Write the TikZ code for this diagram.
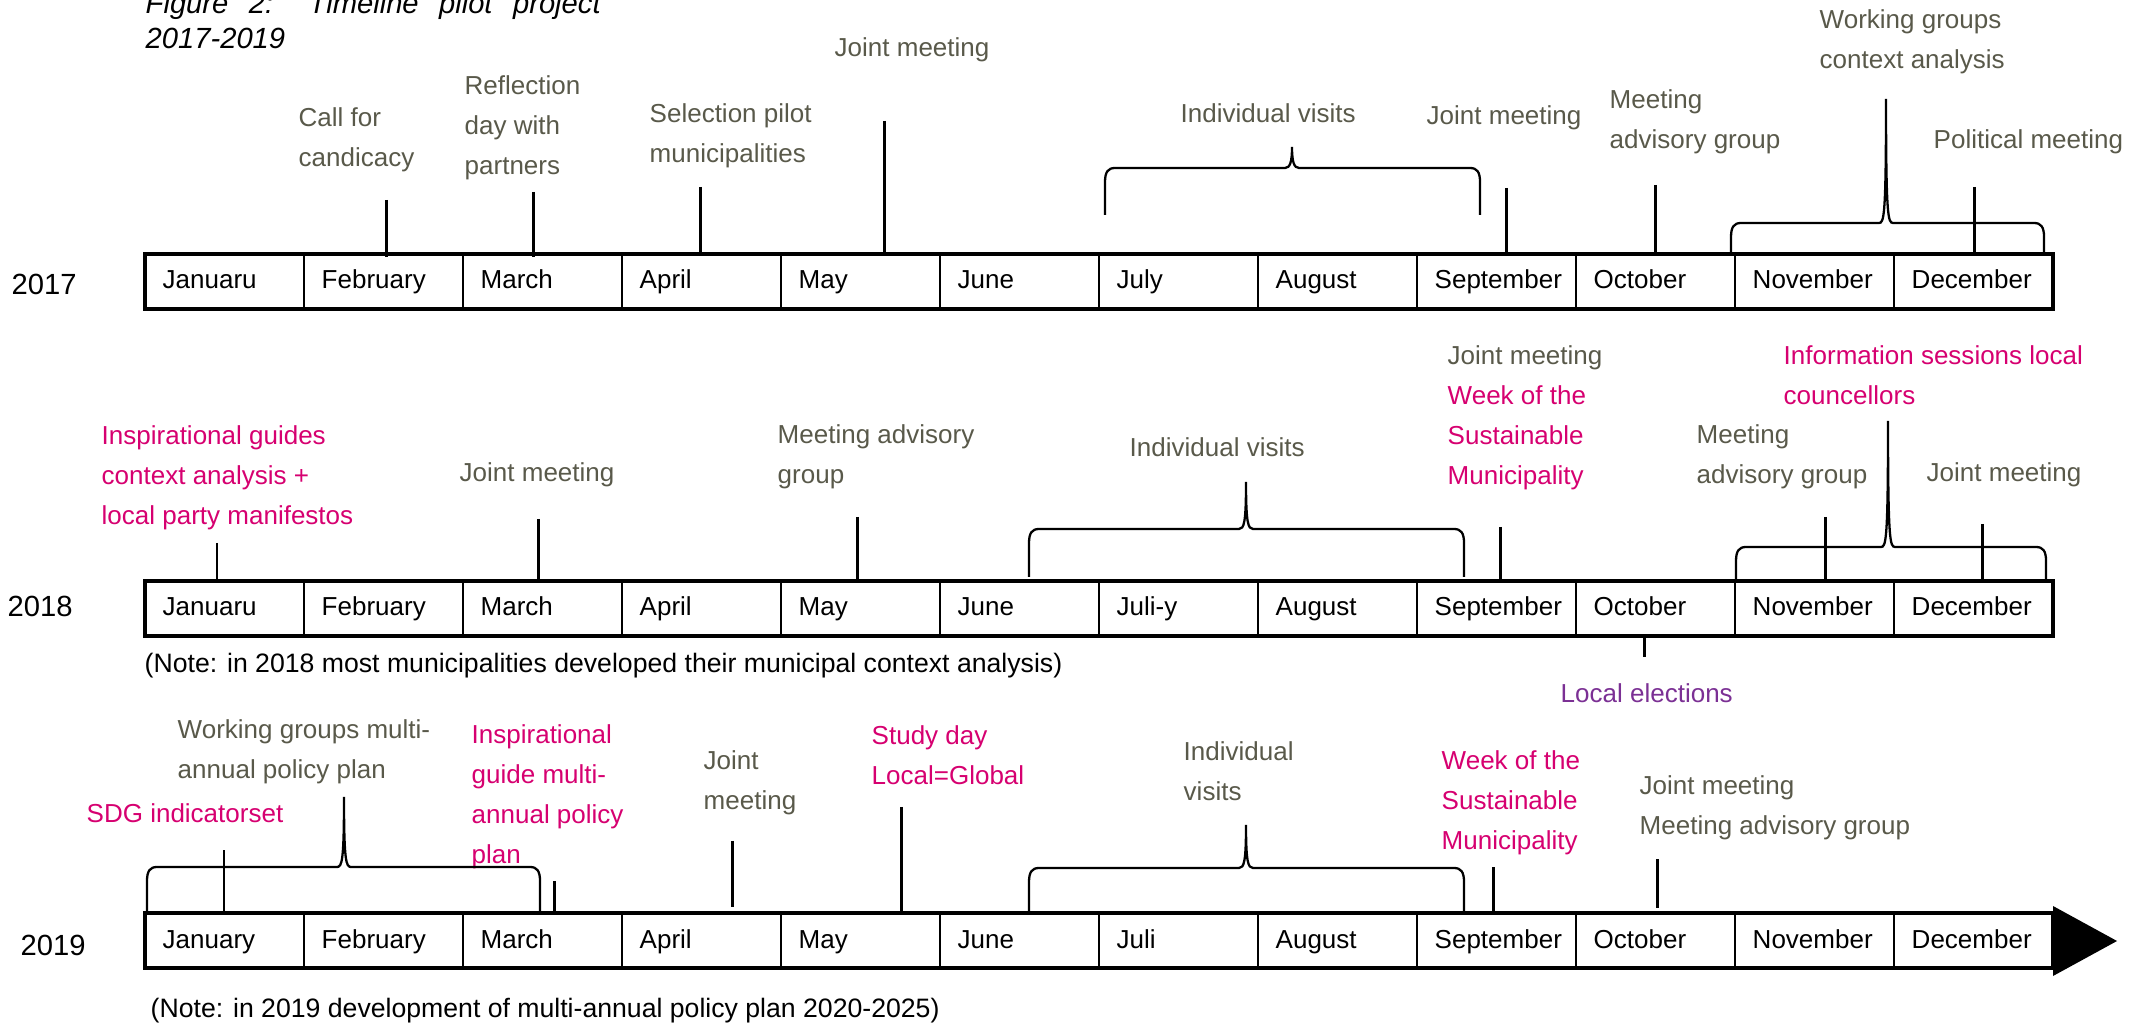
\documentclass[tikz,border=0pt]{standalone}
\usepackage{fontspec}
\setmainfont{Liberation Sans}
\usepackage{xcolor}
\usepackage{tikz}
\usetikzlibrary{positioning}
\definecolor{labelgray}{RGB}{89,89,74}
\definecolor{eventpink}{RGB}{214,0,112}
\definecolor{electpurple}{RGB}{123,48,148}
\tikzset{
  month/.style   ={anchor=base west, inner sep=0pt, font=\fontsize{7.4}{11.4}\selectfont},
  yearlbl/.style ={anchor=base west, inner sep=0pt, font=\fontsize{8.3}{10}\selectfont},
  glbl/.style    ={anchor=north west, inner sep=0pt, align=left, text=labelgray,
                   font=\fontsize{7.4}{11.4}\selectfont},
  plbl/.style    ={glbl, text=eventpink},
  notelbl/.style ={anchor=base west, inner sep=0pt, font=\fontsize{7.58}{11.4}\selectfont},
  barframe/.style={line width=1pt},
  divider/.style ={line width=0.8pt},
  tickline/.style={line width=0.85pt},
  brc/.style     ={line width=0.65pt}
}
% curly brace: left x, right x, leg end y, bar y, peak x, peak y
\newcommand{\eventbrace}[6]{%
  \draw[brc] (#1,#3) -- (#1,#4+14) .. controls (#1,#4+4) and (#1+3,#4) .. (#1+10,#4)
    -- (#5-7,#4) .. controls (#5-2,#4) and (#5,#4-6) .. (#5,#6)
    .. controls (#5,#4-6) and (#5+2,#4) .. (#5+7,#4)
    -- (#2-10,#4) .. controls (#2-3,#4) and (#2,#4+4) .. (#2,#4+14) -- (#2,#3);}

\begin{document}
\begin{tikzpicture}[x=0.1mm, y=-0.1mm]
\useasboundingbox (0,0) rectangle (2152,1025);

\node[anchor=north west, inner sep=0pt, align=left, font=\fontsize{8.3}{10}\selectfont\itshape]
  (title) at (145,-8) {\makebox[45.5mm][s]{Figure 2: Timeline pilot project}\\2017-2019};

% 2017
\node[yearlbl] (y17) at (11,295) {2017};
\draw[barframe] (145,254) rectangle (2053,309);
\foreach \k in {1,...,11} \draw[divider] (145+159*\k,254) -- (145+159*\k,309);
\foreach \m [count=\i from 0] in {Januaru,February,March,April,May,June,July,August,September,October,November,December}
  \node[month] (a\i) at (162+159*\i,289) {\m};

\node[glbl] (cf) at (298,107) {Call for\\candicacy};
\node[glbl] (rd) at (464,75) {Reflection\\day with\\partners};
\node[glbl] (sp) at (649,103) {Selection pilot\\municipalities};
\node[glbl] (jm1) at (834,37) {Joint meeting};
\node[glbl] (iv1) at (1180,103) {Individual visits};
\node[glbl] (jm2) at (1426,105) {Joint meeting};
\node[glbl] (ma1) at (1609,89) {Meeting\\advisory group};
\node[glbl] (wg1) at (1819,9) {Working groups\\context analysis};
\node[glbl] (pm) at (1933,129) {Political meeting};

\foreach \x/\ya/\yb in {386/200/257, 533/192/257, 700/187/254, 884/121/252,
                        1506/188/254, 1655/185/254, 1974/187/254}
  \draw[tickline] (\x,\ya) -- (\x,\yb);
\eventbrace{1105}{1480}{215}{168}{1292}{147}
\eventbrace{1731}{2044}{253}{223}{1886}{99}

% 2018
\node[yearlbl] (y18) at (7,617) {2018};
\draw[barframe] (145,581) rectangle (2053,636);
\foreach \k in {1,...,11} \draw[divider] (145+159*\k,581) -- (145+159*\k,636);
\foreach \m [count=\i from 0] in {Januaru,February,March,April,May,June,Juli-y,August,September,October,November,December}
  \node[month] (b\i) at (162+159*\i,616) {\m};
\node[notelbl] (n18) at (144,673) {(Note: in 2018 most municipalities developed their municipal context analysis)};

\node[plbl] (ig1) at (101,425) {Inspirational guides\\context analysis +\\local party manifestos};
\node[glbl] (jm3) at (459,462) {Joint meeting};
\node[glbl] (ma2) at (777,424) {Meeting advisory\\group};
\node[glbl] (iv2) at (1129,437) {Individual visits};
\node[glbl] (jw) at (1447,345) {Joint meeting\\\textcolor{eventpink}{Week of the}\\\textcolor{eventpink}{Sustainable}\\\textcolor{eventpink}{Municipality}};
\node[plbl] (is) at (1783,345) {Information sessions local\\councellors};
\node[glbl] (ma3) at (1696,424) {Meeting\\advisory group};
\node[glbl] (jm4) at (1926,462) {Joint meeting};
\node[glbl, text=electpurple] (le) at (1560,683) {Local elections};

\foreach \x/\ya/\yb in {217/543/581, 538/519/581, 857/517/581, 1500/527/581,
                        1825/517/581, 1982/524/581, 1644/636/657}
  \draw[tickline] (\x,\ya) -- (\x,\yb);
\eventbrace{1029}{1464}{577}{529}{1246}{482}
\eventbrace{1736}{2046}{579}{547}{1888}{421}

% 2019
\node[yearlbl] (y19) at (20,955) {2019};
\draw[barframe] (145,913) rectangle (2053,968);
\foreach \k in {1,...,11} \draw[divider] (145+159*\k,913) -- (145+159*\k,968);
\foreach \m [count=\i from 0] in {January,February,March,April,May,June,Juli,August,September,October,November,December}
  \node[month] (c\i) at (162+159*\i,948) {\m};
\fill (2053,906) -- (2117,941) -- (2053,976) -- cycle;
\node[notelbl] (n19) at (150,1017) {(Note: in 2019 development of multi-annual policy plan 2020-2025)};

\node[plbl] (sdg) at (86,803) {SDG indicatorset};
\node[glbl] (wg2) at (177,719) {Working groups multi-\\annual policy plan};
\node[plbl] (ig2) at (471,724) {Inspirational\\guide multi-\\annual policy\\plan};
\node[glbl] (jm5) at (703,750) {Joint\\meeting};
\node[plbl] (sd) at (871,725) {Study day\\Local=Global};
\node[glbl] (iv3) at (1183,741) {Individual\\visits};
\node[plbl] (ws) at (1441,750) {Week of the\\Sustainable\\Municipality};
\node[glbl] (jm6) at (1639,775) {Joint meeting\\Meeting advisory group};

\foreach \x/\ya/\yb in {224/850/913, 554/881/913, 732/841/907, 901/807/913,
                        1493/867/913, 1657/859/908}
  \draw[tickline] (\x,\ya) -- (\x,\yb);
\eventbrace{147}{540}{912}{867}{344}{797}
\eventbrace{1029}{1464}{912}{868}{1246}{825}
\end{tikzpicture}
\end{document}
